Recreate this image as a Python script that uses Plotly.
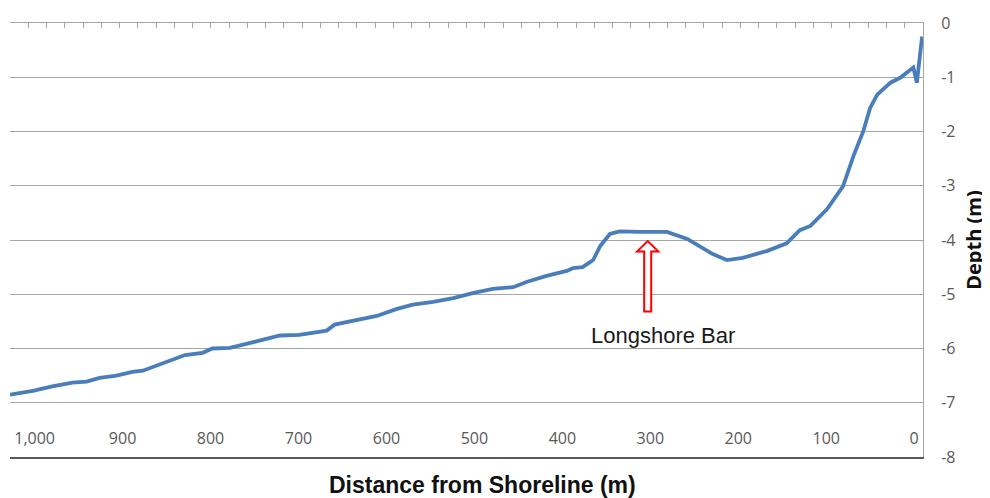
import plotly.graph_objects as go

# cross-shore profile (distance from shoreline in m, depth in m)
distance = [1028, 1009, 1002, 980, 957, 941, 926, 907, 889, 877, 866, 850, 839, 829,
            809, 798, 778, 763, 741, 721, 699, 684, 668, 659, 645, 627, 611, 588,
            570, 547, 524, 502, 479, 456, 440, 418, 395, 388, 377, 365, 357, 346,
            335, 312, 281, 258, 244, 229, 213, 195, 167, 145, 130, 118, 99, 81,
            69, 58, 50, 42, 27, 16, 1, -3, -9]
depth = [-6.85, -6.81, -6.78, -6.70, -6.63, -6.61, -6.54, -6.50, -6.43, -6.41, -6.34,
         -6.24, -6.17, -6.12, -6.08, -6.00, -5.99, -5.93, -5.84, -5.76, -5.75, -5.71,
         -5.67, -5.56, -5.51, -5.44, -5.40, -5.27, -5.19, -5.14, -5.07, -4.98, -4.90,
         -4.87, -4.77, -4.66, -4.57, -4.52, -4.50, -4.37, -4.11, -3.89, -3.84, -3.85,
         -3.85, -3.98, -4.11, -4.26, -4.37, -4.33, -4.20, -4.06, -3.82, -3.74, -3.43,
         -3.01, -2.45, -2.00, -1.56, -1.32, -1.10, -1.01, -0.82, -1.10, -0.25]

x_ticks = [0, 100, 200, 300, 400, 500, 600, 700, 800, 900, 1000]
y_ticks = [0, -1, -2, -3, -4, -5, -6, -7, -8]
y_labels = ["0", "-1", "-2", "-3", "-4", "-5", "-6", "-7", "-8"]

# hollow arrow marking the bar
bar_x = 303
arrow_tip, arrow_neck, arrow_tail = -4.02, -4.21, -5.32
head_half, shaft_half = 12, 4

x_range = [1028, -10]
y_range = [-8, 0]

fig = go.Figure()
fig.add_trace(go.Scatter(x=distance, y=depth, mode="lines",
                         line=dict(color="#4a7ebb", width=3.8), hoverinfo="skip"))
# empty traces so the extra axes get drawn
fig.add_trace(go.Scatter(x=[], y=[], xaxis="x2", yaxis="y", hoverinfo="skip"))
fig.add_trace(go.Scatter(x=[], y=[], xaxis="x3", yaxis="y", hoverinfo="skip"))

path = (f"M {bar_x - shaft_half},{arrow_tail} L {bar_x - shaft_half},{arrow_neck} "
        f"L {bar_x - head_half},{arrow_neck} L {bar_x},{arrow_tip} "
        f"L {bar_x + head_half},{arrow_neck} L {bar_x + shaft_half},{arrow_neck} "
        f"L {bar_x + shaft_half},{arrow_tail} Z")
fig.add_shape(type="path", path=path, xref="x", yref="y",
              line=dict(color="#ff0000", width=2), fillcolor="white")

fig.add_annotation(x=bar_x, y=arrow_tail, yshift=-24, xshift=15, text="Longshore Bar",
                   showarrow=False, xref="x", yref="y",
                   font=dict(family="Liberation Sans", size=22, color="#1a1a1a"))

fig.add_annotation(x=0.517, y=0, yref="paper", xref="paper", yshift=-28, yanchor="middle",
                   text="<b>Distance from Shoreline (m)</b>", showarrow=False,
                   font=dict(family="Liberation Sans", size=23, color="#111111"))

tick_font = dict(family="Open Sans", size=16, color="#595959")

# the page body has an 8px margin, so the figure is 8px smaller and margins shifted
fig.update_layout(
    width=982, height=490,
    margin=dict(l=2, r=67, t=15, b=41),
    plot_bgcolor="white", paper_bgcolor="white",
    showlegend=False,
    xaxis=dict(range=x_range, showticklabels=False, ticks="", showgrid=False,
               zeroline=False, showline=True, linecolor="#595959", linewidth=1.5),
    # distance labels sit inside the plot, above the bottom frame
    xaxis3=dict(range=x_range, tickvals=x_ticks, tickformat=",", overlaying="x",
                anchor="free", position=0.068, side="bottom", ticks="",
                showline=False, showgrid=False, zeroline=False, tickfont=tick_font),
    xaxis2=dict(range=[0, 50], dtick=1, overlaying="x", side="top", anchor="y",
                showticklabels=False, ticks="inside", ticklen=5, tickcolor="#a6a6a6",
                showline=True, linecolor="#a6a6a6", linewidth=1, showgrid=False,
                zeroline=False),
    yaxis=dict(range=y_range, tickvals=y_ticks, ticktext=y_labels, side="right", ticks="",
               showgrid=True, gridcolor="#a6a6a6", gridwidth=1, zeroline=False,
               showline=True, linecolor="#a6a6a6", linewidth=1,
               tickfont=tick_font, ticklabelstandoff=14,
               title=dict(text="<b>Depth (m)</b>", standoff=12,
                          font=dict(family="Open Sans", size=20, color="#111111"))),
    yaxis2=dict(range=y_range, overlaying="y", side="left", anchor="x",
                showticklabels=False, ticks="", showgrid=False, zeroline=False,
                showline=True, linecolor="#595959", linewidth=1.5),
)

fig.write_html("out.html")
